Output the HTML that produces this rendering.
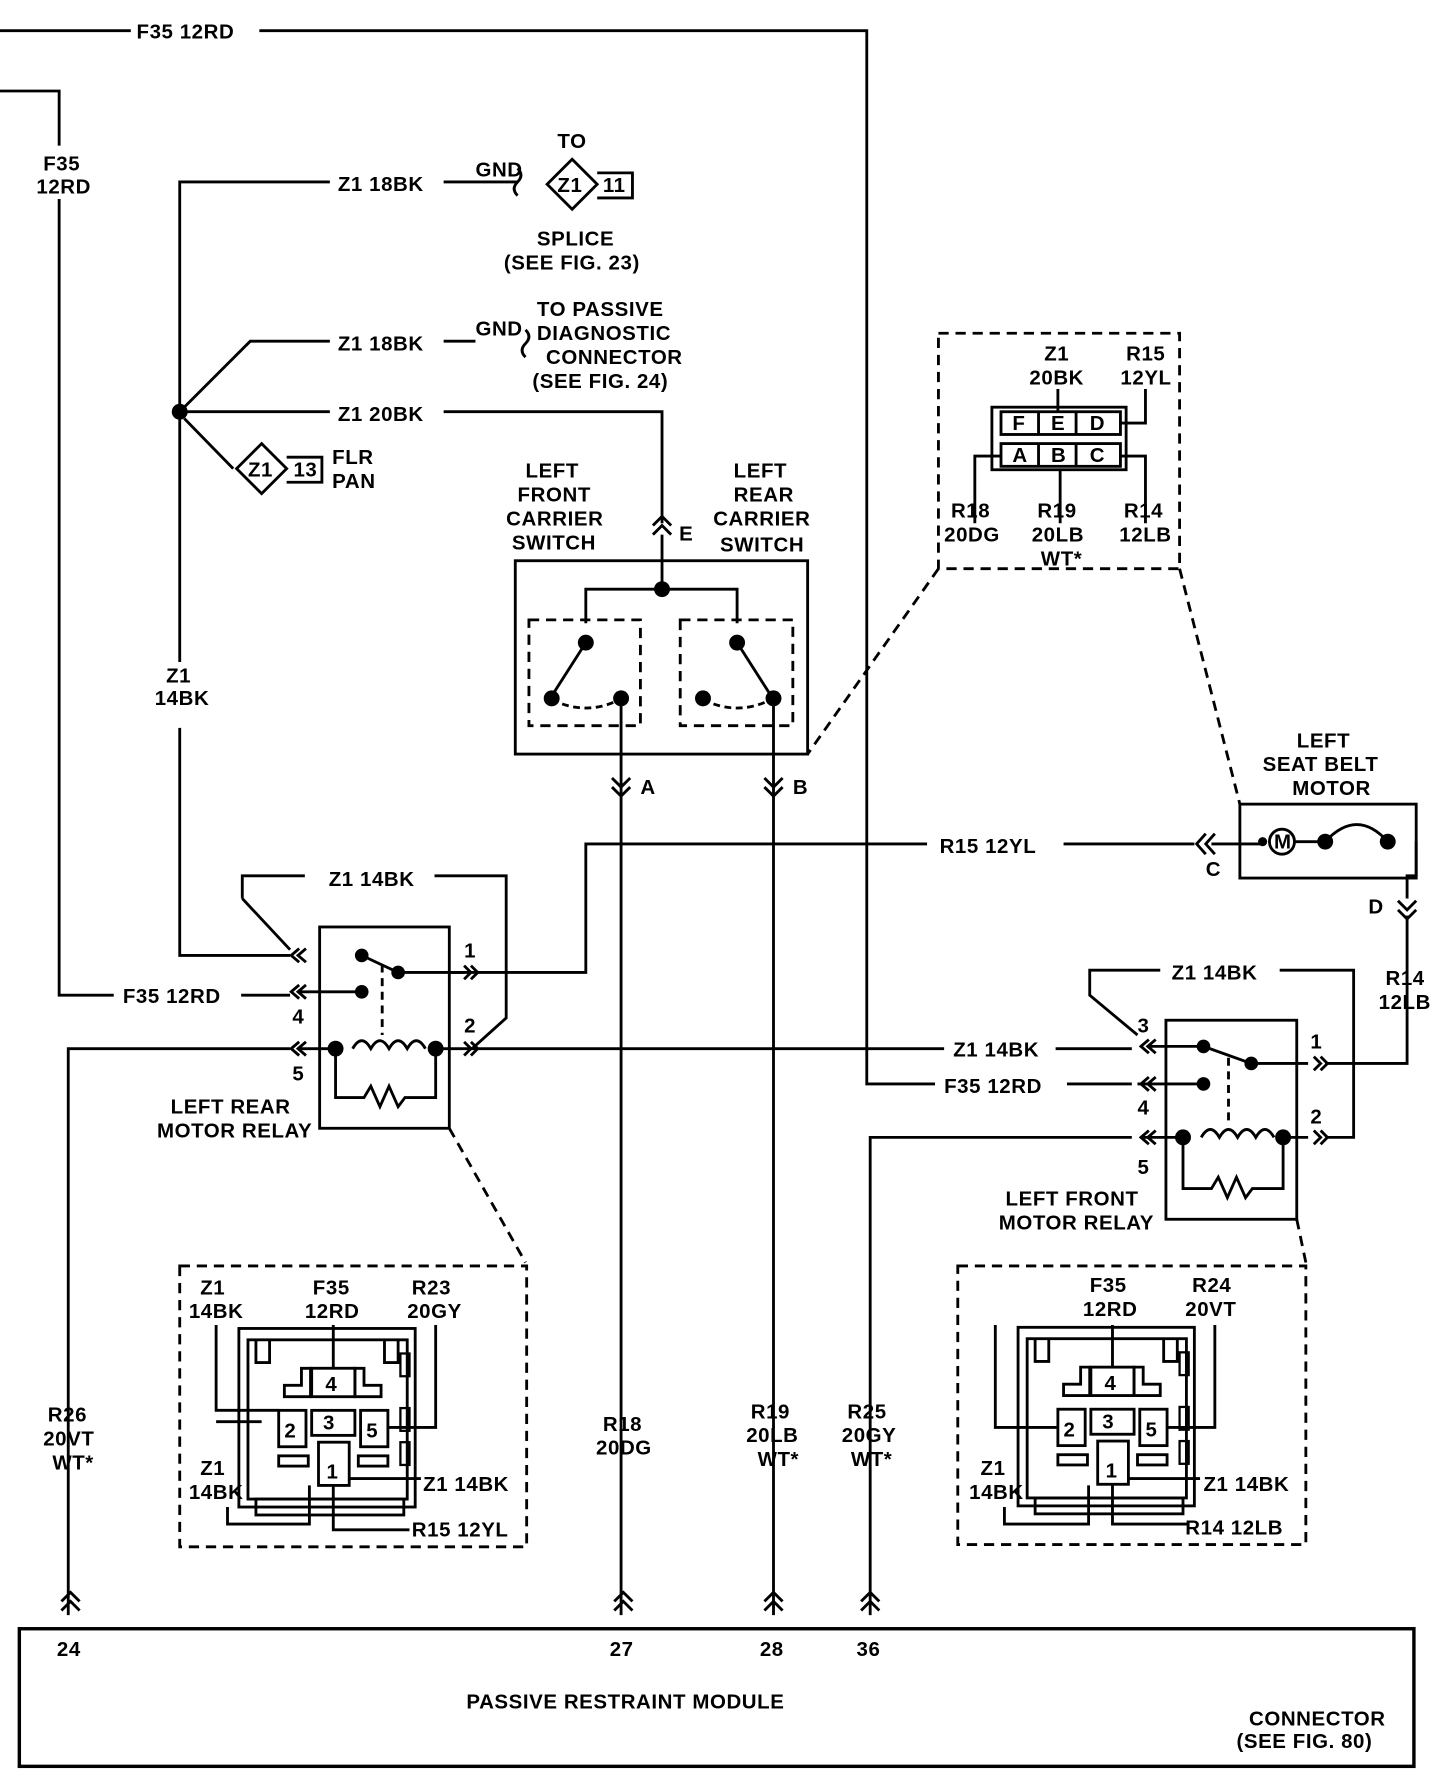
<!DOCTYPE html>
<html><head><meta charset="utf-8"><style>
html,body{margin:0;padding:0;background:#fff;}
svg{display:block}
text{font-family:"Liberation Sans",sans-serif;font-weight:bold;font-size:18px;fill:#000;letter-spacing:0.5px}
</style></head><body>
<svg width="1456" height="1780" viewBox="0 0 1280 1565" preserveAspectRatio="none" xmlns="http://www.w3.org/2000/svg">
<defs>
<g id="conn">
 <rect x="210" y="1168" width="155" height="157" fill="none" stroke="#000" stroke-width="2.5"/>
 <rect x="218" y="1178" width="140" height="140" fill="none" stroke="#000" stroke-width="2.5"/>
 <rect x="225" y="1318" width="130" height="14" fill="none" stroke="#000" stroke-width="2.5"/>
 <path d="M225 1178v20h12v-20 M350 1178v20h-12v-20" fill="none" stroke="#000" stroke-width="2.5"/>
 <path d="M250 1228v-10h15v-15h8v25z M335 1228v-10h-15v-15h-8v25z" fill="none" stroke="#000" stroke-width="2.5"/>
 <rect x="274" y="1203" width="38" height="25" fill="none" stroke="#000" stroke-width="2.5"/>
 <text x="286" y="1223" font-size="15">4</text>
 <rect x="245" y="1240" width="24" height="32" fill="none" stroke="#000" stroke-width="2.5"/>
 <text x="250" y="1264">2</text>
 <rect x="274" y="1240" width="38" height="22" fill="none" stroke="#000" stroke-width="2.5"/>
 <text x="284" y="1257" font-size="15">3</text>
 <rect x="317" y="1240" width="24" height="32" fill="none" stroke="#000" stroke-width="2.5"/>
 <text x="322" y="1264">5</text>
 <rect x="280" y="1268" width="27" height="38" fill="none" stroke="#000" stroke-width="2.5"/>
 <text x="287" y="1300">1</text>
 <rect x="245" y="1280" width="26" height="9" fill="none" stroke="#000" stroke-width="2.5"/>
 <rect x="315" y="1280" width="26" height="9" fill="none" stroke="#000" stroke-width="2.5"/>
 <rect x="352" y="1190" width="8" height="20" fill="none" stroke="#000" stroke-width="2"/>
 <rect x="352" y="1238" width="8" height="20" fill="none" stroke="#000" stroke-width="2"/>
 <rect x="352" y="1268" width="8" height="20" fill="none" stroke="#000" stroke-width="2"/>
</g>
</defs>
<g fill="none" stroke="#000" stroke-width="2.5">
<path d="M0 27H115 M228 27H762V953H822 M938 953H995"/>
<path d="M0 80H52V128 M52 175V875H100 M212 875H255"/>
<path d="M158 582V160H290 M390 160H455"/>
<path d="M158 362L220 300H290 M390 300H418"/>
<path d="M158 362H290 M390 362H582V460"/>
<path d="M158 640V840H255"/>
<path d="M205 412L162 368"/>
<path d="M455 148q6 6 0 12q-6 6 0 12 M462 290q6 6 0 12q-6 6 0 12"/>
<path d="M503 140L525 162L503 184L481 162Z M525 152H556V174H525"/>
<path d="M230 390L252 412L230 434L208 412Z M252 402H283V424H252"/>
<rect x="453" y="493" width="257" height="170"/>
<path d="M582 470V518 M515 548V518H648V548"/>
<path d="M515 565L485 612 M648 565L678 612"/>
<path d="M485 615q30 15 60 0 M618 615q30 15 60 0" stroke-dasharray="6 4"/>
<rect x="465" y="545" width="98" height="93" stroke-dasharray="9 6"/>
<rect x="598" y="545" width="99" height="93" stroke-dasharray="9 6"/>
<path d="M546 615V1420 M680 615V1420"/>
<path d="M574 462l8 -8l8 8 M574 470l8 -8l8 8"/>
<path d="M538 684l8 8l8 -8 M538 692l8 8l8 -8 M672 684l8 8l8 -8 M672 692l8 8l8 -8"/>
<path d="M350 855H515V742H815 M935 742H1050 M1065 742H1110"/>
<path d="M1060 733l-8 9l8 9 M1068 733l-8 9l8 9"/>
<rect x="281" y="815" width="114" height="177"/>
<path d="M213 790V770H268 M382 770H445V895L415 922"/>
<path d="M213 790L255 835"/>
<path d="M318 840L350 855 M318 872H263"/>
<path d="M336 848V910" stroke-dasharray="7 5"/>
<path d="M60 1420V922H255 M263 922H295 M383 922H830 M928 922H995"/>
<path d="M295 922V965H320l6-10 8 18 8-18 8 18 6-8H383V922"/>
<path d="M310 922q8-14 16 0q8-14 16 0q8-14 16 0q8-14 16 0" />
<path d="M395 855H408 M408 849l6 6l-6 6 M414 849l6 6l-6 6 M408 916l6 6l-6 6 M414 916l6 6l-6 6"/>
<path d="M263 834l-7 6l7 6 M269 834l-7 6l7 6 M263 866l-7 6l7 6 M269 866l-7 6l7 6 M263 916l-7 6l7 6 M269 916l-7 6l7 6"/>
<path d="M395 992L462 1110" stroke-dasharray="9 6"/>
<rect x="1025" y="897" width="115" height="175"/>
<path d="M1058 920L1100 935H1150 M1165 935H1237V805"/>
<path d="M1000 953H1058"/>
<path d="M1080 930V990" stroke-dasharray="7 5"/>
<path d="M765 1420V1000H995 M1005 1000H1040 M1128 1000H1150 M1165 1000H1190V853H1125 M1020 853H958V875L1000 910"/>
<path d="M1010 920H1058"/>
<path d="M1040 1000V1045H1065l6-10 8 18 8-18 8 18 6-8H1128V1000"/>
<path d="M1056 1000q8-14 16 0q8-14 16 0q8-14 16 0q8-14 16 0"/>
<path d="M1010 914l-7 6l7 6 M1016 914l-7 6l7 6 M1010 947l-7 6l7 6 M1016 947l-7 6l7 6 M1010 994l-7 6l7 6 M1016 994l-7 6l7 6"/>
<path d="M1155 929l6 6l-6 6 M1161 929l6 6l-6 6 M1155 994l6 6l-6 6 M1161 994l6 6l-6 6"/>
<path d="M1140 1072L1148 1110" stroke-dasharray="9 6"/>
<rect x="1090" y="707" width="155" height="65"/>
<path d="M1245 740V770H1237V790 M1165 740q28 -30 55 0 M1138 740H1165"/>
<circle cx="1127" cy="740" r="11"/>
<path d="M1229 792l8 8l8 -8 M1229 800l8 8l8 -8"/>
<rect x="825" y="293" width="212" height="207" stroke-dasharray="9 6"/>
<path d="M825 500L710 663 M1037 500L1090 707" stroke-dasharray="9 6"/>
<rect x="872" y="358" width="118" height="55"/>
<rect x="880" y="362" width="105" height="20"/><rect x="880" y="390" width="105" height="20"/>
<path d="M913 362v20 M946 362v20 M913 390v20 M946 390v20"/>
<path d="M930 342V362 M1007 342V372H985 M857 460V401H880 M932 460V412 M1007 460V401H985"/>
<rect x="158" y="1113" width="305" height="247" stroke-dasharray="9 6"/>
<rect x="842" y="1113" width="306" height="245" stroke-dasharray="9 6"/>
<path d="M190 1165V1240H245 M293 1165V1203 M383 1165V1255H341 M200 1325V1340H272V1306 M293 1306V1345H360 M307 1300H370 M190 1250H230"/>
<path d="M875 1165V1255H930 M978 1165V1203 M1068 1165V1255H1026 M883 1325V1340H957V1306 M978 1306V1340H1045 M992 1300H1055"/>
<rect x="17" y="1432" width="1226" height="121" stroke-width="3"/>
<path d="M54 1408l8-8l8 8 M54 1416l8-8l8 8 M540 1408l8-8l8 8 M540 1416l8-8l8 8 M672 1408l8-8l8 8 M672 1416l8-8l8 8 M757 1408l8-8l8 8 M757 1416l8-8l8 8"/>
</g>
<g fill="#000">
<circle cx="158" cy="362" r="7"/><circle cx="582" cy="518" r="7"/>
<circle cx="515" cy="565" r="7"/><circle cx="648" cy="565" r="7"/>
<circle cx="485" cy="614" r="7"/><circle cx="546" cy="614" r="7"/>
<circle cx="618" cy="614" r="7"/><circle cx="680" cy="614" r="7"/>
<circle cx="318" cy="840" r="6"/><circle cx="350" cy="855" r="6"/><circle cx="318" cy="872" r="6"/>
<circle cx="295" cy="922" r="7"/><circle cx="383" cy="922" r="7"/>
<circle cx="1058" cy="920" r="6"/><circle cx="1100" cy="935" r="6"/><circle cx="1058" cy="953" r="6"/>
<circle cx="1040" cy="1000" r="7"/><circle cx="1128" cy="1000" r="7"/>
<circle cx="1165" cy="740" r="7"/><circle cx="1220" cy="740" r="7"/><circle cx="1110" cy="740" r="4"/>
</g>
<use href="#conn"/>
<use href="#conn" transform="translate(685,-1)"/>
<text x="1120" y="746" font-size="14">M</text>
<text x="890" y="378" font-size="13">F</text><text x="924" y="378" font-size="13">E</text><text x="958" y="378" font-size="13">D</text>
<text x="890" y="406" font-size="13">A</text><text x="924" y="406" font-size="13">B</text><text x="958" y="406" font-size="13">C</text>
<text x="120" y="34">F35 12RD</text>
<text x="38" y="150">F35</text><text x="32" y="170">12RD</text>
<text x="297" y="168">Z1 18BK</text><text x="418" y="155" font-size="16">GND</text>
<text x="490" y="130" font-size="17">TO</text><text x="490" y="169" font-size="15">Z1</text><text x="530" y="169" font-size="15">11</text>
<text x="472" y="216">SPLICE</text><text x="443" y="237">(SEE FIG. 23)</text>
<text x="297" y="308">Z1 18BK</text><text x="418" y="295" font-size="16">GND</text>
<text x="472" y="278">TO PASSIVE</text><text x="472" y="299">DIAGNOSTIC</text><text x="480" y="320">CONNECTOR</text><text x="468" y="341">(SEE FIG. 24)</text>
<text x="297" y="370">Z1 20BK</text>
<text x="218" y="419" font-size="15">Z1</text><text x="258" y="419" font-size="15">13</text>
<text x="292" y="408">FLR</text><text x="292" y="429">PAN</text>
<text x="462" y="420">LEFT</text><text x="455" y="441">FRONT</text><text x="445" y="462">CARRIER</text><text x="450" y="483">SWITCH</text>
<text x="645" y="420">LEFT</text><text x="645" y="441">REAR</text><text x="627" y="462">CARRIER</text><text x="633" y="485">SWITCH</text>
<text x="597" y="475">E</text><text x="563" y="698">A</text><text x="697" y="698">B</text>
<text x="146" y="600">Z1</text><text x="136" y="620">14BK</text>
<text x="918" y="317">Z1</text><text x="905" y="338">20BK</text>
<text x="990" y="317">R15</text><text x="985" y="338">12YL</text>
<text x="836" y="455">R18</text><text x="830" y="476">20DG</text>
<text x="912" y="455">R19</text><text x="907" y="476">20LB</text><text x="915" y="497">WT*</text>
<text x="988" y="455">R14</text><text x="984" y="476">12LB</text>
<text x="1140" y="657">LEFT</text><text x="1110" y="678">SEAT BELT</text><text x="1136" y="699">MOTOR</text>
<text x="826" y="750">R15 12YL</text><text x="1060" y="770">C</text><text x="1203" y="803">D</text>
<text x="289" y="779">Z1 14BK</text>
<text x="108" y="882">F35 12RD</text>
<text x="257" y="900">4</text><text x="257" y="950">5</text><text x="408" y="842">1</text><text x="408" y="908">2</text>
<text x="150" y="979">LEFT REAR</text><text x="138" y="1000">MOTOR RELAY</text>
<text x="1218" y="866">R14</text><text x="1212" y="887">12LB</text>
<text x="1030" y="861">Z1 14BK</text>
<text x="838" y="929">Z1 14BK</text><text x="830" y="961">F35 12RD</text>
<text x="1000" y="908">3</text><text x="1000" y="980">4</text><text x="1000" y="1032">5</text>
<text x="1152" y="922">1</text><text x="1152" y="988">2</text>
<text x="884" y="1060">LEFT FRONT</text><text x="878" y="1081">MOTOR RELAY</text>
<text x="176" y="1138">Z1</text><text x="166" y="1159">14BK</text>
<text x="275" y="1138">F35</text><text x="268" y="1159">12RD</text>
<text x="362" y="1138">R23</text><text x="358" y="1159">20GY</text>
<text x="176" y="1297">Z1</text><text x="166" y="1318">14BK</text>
<text x="372" y="1311">Z1 14BK</text><text x="362" y="1351">R15 12YL</text>
<text x="958" y="1136">F35</text><text x="952" y="1157">12RD</text>
<text x="1048" y="1136">R24</text><text x="1042" y="1157">20VT</text>
<text x="862" y="1297">Z1</text><text x="852" y="1318">14BK</text>
<text x="1058" y="1311">Z1 14BK</text><text x="1042" y="1349">R14 12LB</text>
<text x="42" y="1250">R26</text><text x="38" y="1271">20VT</text><text x="46" y="1292">WT*</text>
<text x="530" y="1258">R18</text><text x="524" y="1279">20DG</text>
<text x="660" y="1247">R19</text><text x="656" y="1268">20LB</text><text x="666" y="1289">WT*</text>
<text x="745" y="1247">R25</text><text x="740" y="1268">20GY</text><text x="748" y="1289">WT*</text>
<text x="50" y="1456">24</text><text x="536" y="1456">27</text><text x="668" y="1456">28</text><text x="753" y="1456">36</text>
<text x="410" y="1502">PASSIVE RESTRAINT MODULE</text>
<text x="1098" y="1517">CONNECTOR</text><text x="1087" y="1537">(SEE FIG. 80)</text>
</svg>
</body></html>
